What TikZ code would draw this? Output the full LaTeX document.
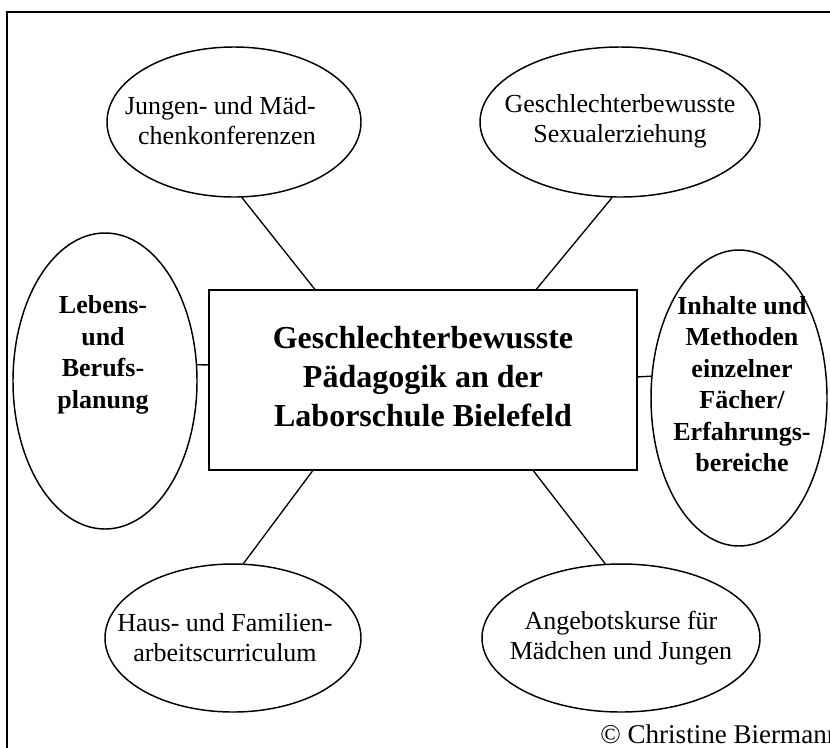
\documentclass[tikz,border=0pt]{standalone}
\usepackage{fontspec}
\setmainfont{Liberation Serif}
\usetikzlibrary{shapes.geometric,calc}
\begin{document}
\begin{tikzpicture}[x=0.75pt,y=-0.75pt,
  oval/.style={draw,ellipse,line width=1.1pt,inner sep=0pt},
  box/.style={draw,rectangle,line width=1.2pt,inner sep=0pt},
  link/.style={line width=1pt},
  small/.style={align=center,inner sep=0pt,font=\fontsize{19.5}{22.5}\selectfont},
  smallbold/.style={align=center,inner sep=0pt,font=\fontsize{19.5}{23.6}\selectfont\bfseries},
  big/.style={align=center,inner sep=0pt,font=\fontsize{24}{29.2}\selectfont\bfseries}]
\useasboundingbox (0,0) rectangle (830,747);
\clip (0,0) rectangle (830,747);
\draw[line width=1.4pt] (7,770) -- (7,12) -- (850,12);

% shapes
\node[box,minimum width=321pt,minimum height=135pt] (c) at (423,380) {};
\node[oval,minimum width=190.5pt,minimum height=112.5pt] (tl) at (234,122) {};
\node[oval,minimum width=210pt,minimum height=112.5pt] (tr) at (620,122) {};
\node[oval,minimum width=192pt,minimum height=111pt] (bl) at (233,638) {};
\node[oval,minimum width=208.5pt,minimum height=111pt] (br) at (621,638) {};
\node[oval,minimum width=138pt,minimum height=222pt] (le) at (105,381) {};
\node[oval,minimum width=132pt,minimum height=222pt] (re) at (739,398) {};

% texts
\node[big] (ct) at (423,377) {Geschlechterbewusste\\Pädagogik an der\\Laborschule Bielefeld};
\node[small,align=right,anchor=east] (tlt) at (316,121) {Jungen- und Mäd-\\chenkonferenzen};
\node[small] (trt) at (620,121) {Geschlechterbewusste\\Sexualerziehung};
\node[small] (blt) at (225,638) {Haus- und Familien-\\arbeitscurriculum};
\node[small] (brt) at (621,638) {Angebotskurse für\\Mädchen und Jungen};
\node[smallbold] (let) at (103,355) {Lebens-\\und\\Berufs-\\planung};
\node[smallbold] (ret) at (742,384) {Inhalte und\\Methoden\\einzelner\\Fächer/\\Erfahrungs-\\bereiche};
\node[anchor=base west,inner sep=0pt,font=\fontsize{20.3}{23}\selectfont] (copy) at (600,743) {© Christine Biermann};

% connectors
\draw[link] (tl.-84.7) -- ($(c.north west)!0.248!(c.north east)$);
\draw[link] (tr.-96) -- ($(c.north west)!0.764!(c.north east)$);
\draw[link] (bl.82) -- ($(c.south west)!0.243!(c.south east)$);
\draw[link] (br.102) -- ($(c.south west)!0.757!(c.south east)$);
\draw[link] (le.10) -- ($(c.north west)!0.417!(c.south west)$);
\draw[link] (re.166.4) -- ($(c.north east)!0.483!(c.south east)$);
\end{tikzpicture}
\end{document}
